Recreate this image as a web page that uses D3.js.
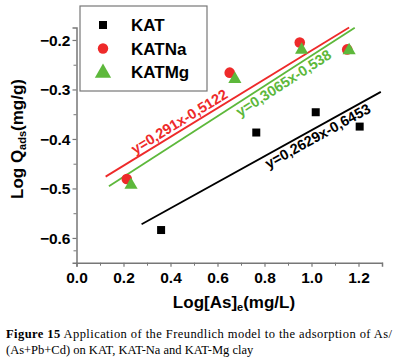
<!DOCTYPE html>
<html>
<head>
<meta charset="utf-8">
<script src="https://cdn.jsdelivr.net/npm/d3@7"></script>
<style>
body{margin:0;background:#fff;}
svg{display:block;}
.tick text{font-family:Arial,"Liberation Sans",sans-serif;font-weight:bold;font-size:15.5px;fill:#000;}
</style>
</head>
<body>
<div id="chart"></div>
<script>
// data
var katX=[0.36,0.765,1.018,1.205];
var katY=[-0.584,-0.387,-0.346,-0.375];
var naX=[0.214,0.652,0.95,1.152];
var naY=[-0.481,-0.266,-0.205,-0.219];
var mgX=[0.232,0.674,0.958,1.16];
var mgY=[-0.491,-0.277,-0.218,-0.219];
// fitted lines: slope, intercept, x range
var fits=[
    {name:'KATNa',a:0.291,b:-0.5122,x0:0.124,x1:1.16,label:'y=0,291x-0,5122'},
    {name:'KATMg',a:0.3065,b:-0.538,x0:0.138,x1:1.184,label:'y=0,3065x-0,538'},
    {name:'KAT',a:0.2629,b:-0.6453,x0:0.277,x1:1.295,label:'y=0,2629x-0,6453'}
];
var xTicks=[0,0.2,0.4,0.6,0.8,1.0,1.2];
var yTicks=[-0.2,-0.3,-0.4,-0.5,-0.6];
var colors={KAT:'#000000',KATNa:'#ee2a2a',KATMg:'#5db83b'};

var W=399,H=360;
var margin={left:76.5,top:27.6,right:17,bottom:97.3};
var width=W-margin.left-margin.right;
var height=H-margin.top-margin.bottom;
var sans='Arial,"Liberation Sans",sans-serif';

var svg=d3.select('#chart').append('svg')
    .attr('width',W)
    .attr('height',H);
var g=svg.append('g')
    .attr('transform','translate('+margin.left+','+margin.top+')');

var x=d3.scaleLinear().domain([0,1.3]).range([0,width]);
var y=d3.scaleLinear().domain([-0.65,-0.175]).range([height,0]);

// minor ticks
g.append('g')
    .attr('transform','translate(0,'+height+')')
    .call(d3.axisBottom(x).tickValues(d3.range(0.1,1.31,0.2)).tickSize(3).tickFormat(''))
    .call(function(s){s.select('.domain').remove();s.selectAll('line').attr('stroke','#777');});
g.append('g')
    .call(d3.axisLeft(y).tickValues([-0.25,-0.35,-0.45,-0.55,-0.625]).tickSize(3).tickFormat(''))
    .call(function(s){s.select('.domain').remove();s.selectAll('line').attr('stroke','#777');});

var xAxis=g.append('g')
    .attr('transform','translate(0,'+height+')')
    .call(d3.axisBottom(x).tickValues(xTicks).tickSize(4).tickPadding(5).tickFormat(d3.format('.1f')));
var yAxis=g.append('g')
    .call(d3.axisLeft(y).tickValues(yTicks).tickSize(4).tickPadding(2).tickFormat(d3.format('.1f')));
[xAxis,yAxis].forEach(function(a){
    a.select('.domain').attr('stroke','#777').attr('stroke-width',1.5);
    a.selectAll('.tick line').attr('stroke','#777').attr('stroke-width',1.2);
});
yAxis.selectAll('.tick text').attr('dy','0.35em');

// fit lines
fits.forEach(function(f){
    g.append('line')
        .attr('x1',x(f.x0)).attr('y1',y(f.a*f.x0+f.b))
        .attr('x2',x(f.x1)).attr('y2',y(f.a*f.x1+f.b))
        .attr('stroke',colors[f.name])
        .attr('stroke-width',1.8);
});

// equation labels
var labelPos={KATNa:{x:0.257,dy:-3.5},KATMg:{x:0.666,dy:13},KAT:{x:0.79,dy:13}};
fits.forEach(function(f){
    var p=labelPos[f.name];
    var ang=Math.atan2(y(f.a*(p.x+1)+f.b)-y(f.a*p.x+f.b),x(p.x+1)-x(p.x))*180/Math.PI;
    g.append('text')
        .attr('transform','translate('+x(p.x)+','+(y(f.a*p.x+f.b))+') rotate('+ang+') translate(0,'+p.dy+')')
        .attr('font-family',sans)
        .attr('font-weight','bold')
        .attr('font-size',14.5)
        .attr('fill',colors[f.name])
        .text(f.label);
});

// points
var kat=katX.map(function(d,i){return {x:d,y:katY[i]};});
var na=naX.map(function(d,i){return {x:d,y:naY[i]};});
var mg=mgX.map(function(d,i){return {x:d,y:mgY[i]};});

g.selectAll('.kat').data(kat).enter().append('path')
    .attr('class','kat')
    .attr('d',d3.symbol().type(d3.symbolSquare).size(64))
    .attr('transform',function(d){return 'translate('+x(d.x)+','+y(d.y)+')';})
    .attr('fill',colors.KAT);
g.selectAll('.na').data(na).enter().append('circle')
    .attr('class','na')
    .attr('cx',function(d){return x(d.x);})
    .attr('cy',function(d){return y(d.y);})
    .attr('r',5.3)
    .attr('fill',colors.KATNa);
g.selectAll('.mg').data(mg).enter().append('path')
    .attr('class','mg')
    .attr('d',d3.symbol().type(d3.symbolTriangle).size(75))
    .attr('transform',function(d){return 'translate('+x(d.x)+','+(y(d.y)+1)+')';})
    .attr('fill',colors.KATMg);

// legend
var legend=svg.append('g');
legend.append('rect')
    .attr('x',80).attr('y',6).attr('width',127).attr('height',85)
    .attr('fill','#fff').attr('stroke','#777').attr('stroke-width',1.2);
var legendItems=[
    {name:'KAT',sym:d3.symbolSquare,size:64},
    {name:'KATNa',sym:d3.symbolCircle,size:85},
    {name:'KATMg',sym:d3.symbolTriangle,size:115}
];
legendItems.forEach(function(d,i){
    var cy=25+i*23.5;
    legend.append('path')
        .attr('d',d3.symbol().type(d.sym).size(d.size))
        .attr('transform','translate(103,'+(cy+(i==2?1:0))+')')
        .attr('fill',colors[d.name]);
    legend.append('text')
        .attr('x',131).attr('y',cy)
        .attr('dy','0.36em')
        .attr('font-family',sans)
        .attr('font-weight','bold')
        .attr('font-size',17)
        .text(d.name);
});

// axis titles
var yt=svg.append('text')
    .attr('transform','translate(23,139) rotate(-90)')
    .attr('text-anchor','middle')
    .attr('font-family',sans)
    .attr('font-weight','bold')
    .attr('font-size',17);
yt.append('tspan').text('Log Q');
yt.append('tspan').attr('font-size',11).attr('dy',3).text('ads');
yt.append('tspan').attr('dy',-3).text('(mg/g)');

var xt=svg.append('text')
    .attr('x',234).attr('y',308)
    .attr('text-anchor','middle')
    .attr('font-family',sans)
    .attr('font-weight','bold')
    .attr('font-size',17);
xt.append('tspan').text('Log[As]');
xt.append('tspan').attr('font-size',11).attr('dy',3).text('e');
xt.append('tspan').attr('dy',-3).text('(mg/L)');

// caption
var c1=svg.append('text')
    .attr('x',6).attr('y',338)
    .attr('font-family','"Liberation Serif","DejaVu Serif",serif')
    .attr('font-size',12.5)
    .attr('textLength',386)
    .attr('lengthAdjust','spacing');
c1.append('tspan').attr('font-weight','bold').text('Figure 15');
c1.append('tspan').text(' Application of the Freundlich model to the adsorption of As/');
svg.append('text')
    .attr('x',6).attr('y',354)
    .attr('font-family','"Liberation Serif","DejaVu Serif",serif')
    .attr('font-size',12.5)
    .text('(As+Pb+Cd) on KAT, KAT-Na and KAT-Mg clay');
</script>
</body>
</html>
